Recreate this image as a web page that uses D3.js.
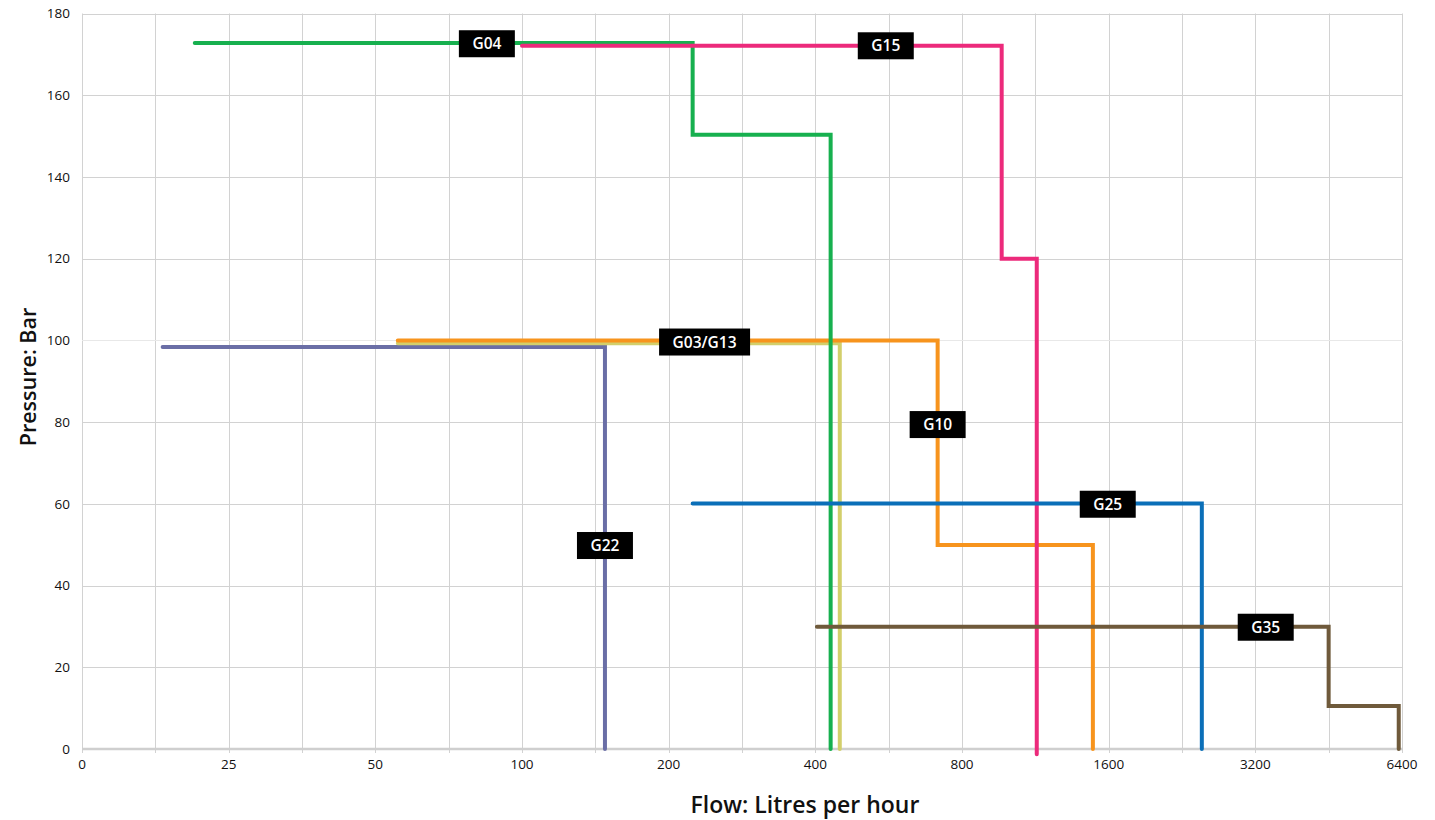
<!DOCTYPE html>
<html>
<head>
<meta charset="utf-8">
<script src="https://cdn.jsdelivr.net/npm/d3@7"></script>
<style>
  html, body { margin: 0; padding: 0; background: #fff; }
  svg { display: block; font-family: "Open Sans", "Noto Sans", sans-serif; }
</style>
</head>
<body>
<svg id="chart" width="1435" height="820"></svg>
<script>
// ---- data ----
const xTickValues = [12.5, 25, 50, 100, 200, 400, 800, 1600, 3200, 6400];
const xTickLabels = ["0", "25", "50", "100", "200", "400", "800", "1600", "3200", "6400"];
const yTickValues = [0, 20, 40, 60, 80, 100, 120, 140, 160, 180];

const seriesNames = ["G22", "G03/G13", "G10", "G04", "G15", "G25", "G35"];
const seriesColors = ["#6a6ea6", "#d3cf6b", "#f7941d", "#17b04f", "#ec2a7b", "#0b6fb8", "#6f5a3b"];

const g22 = [[18.3, 98.4], [148, 98.4], [148, 0]];
const g03g13 = [[55.6, 99.3], [449, 99.3], [449, 0]];
const g10 = [[55.6, 100], [713, 100], [713, 49.9], [1485, 49.9], [1485, 0]];
const g04 = [[21.3, 172.8], [224, 172.8], [224, 150.3], [430, 150.3], [430, 0]];
const g15 = [[100, 172.1], [965, 172.1], [965, 120], [1139, 120], [1139, -1.3]];
const g25 = [[224, 60.1], [2485, 60.1], [2485, 0]];
const g35 = [[403, 29.9], [4525, 29.9], [4525, 10.5], [6302, 10.5], [6302, 0]];
const seriesPoints = [g22, g03g13, g10, g04, g15, g25, g35];

// label anchors [flow, pressure]
const labelNames = ["G04", "G15", "G03/G13", "G10", "G22", "G25", "G35"];
const labelPos = [[84.7, 172.6], [558, 172.1], [237, 99.6], [713, 79.4], [148, 49.8], [1593, 59.9], [3361, 29.8]];

// ---- chart ----
const svg = d3.select("#chart");
const mLeft = 82, mRight = 1402, mTop = 13.5, mBottom = 749;

const x = d3.scaleLog().base(2).domain([12.5, 6400]).range([mLeft, mRight]);
const y = d3.scaleLinear().domain([0, 180]).range([mBottom, mTop]);

// vertical grid at every half doubling
const vGrid = d3.range(0, 19).map(k => 12.5 * Math.pow(2, k / 2));
svg.append("g").selectAll("line").data(vGrid).join("line")
  .attr("x1", d => Math.round(x(d)) + 0.5).attr("x2", d => Math.round(x(d)) + 0.5)
  .attr("y1", mTop).attr("y2", mBottom + 4)
  .attr("stroke", "#d2d2d2").attr("stroke-width", 1);

// horizontal grid
svg.append("g").selectAll("line").data(yTickValues.filter(d => d > 0)).join("line")
  .attr("x1", mLeft).attr("x2", mRight + 1)
  .attr("y1", d => Math.round(y(d)) + 0.5).attr("y2", d => Math.round(y(d)) + 0.5)
  .attr("stroke", d => d === 100 ? "#e8e8e8" : "#d2d2d2").attr("stroke-width", 1);

// x axis baseline
svg.append("line").attr("x1", mLeft).attr("x2", mRight + 1).attr("y1", mBottom).attr("y2", mBottom)
  .attr("stroke", "#cfcfcf").attr("stroke-width", 2.5);

// y tick labels
svg.append("g").selectAll("text").data(yTickValues).join("text")
  .attr("x", 70).attr("y", d => y(d)).attr("dy", "0.35em")
  .attr("text-anchor", "end").attr("font-size", 13.5).attr("fill", "#111")
  .text(d => d);

// x tick labels
svg.append("g").selectAll("text").data(xTickValues).join("text")
  .attr("x", d => x(d)).attr("y", 769)
  .attr("text-anchor", "middle").attr("font-size", 13.5).attr("fill", "#111")
  .text((d, i) => xTickLabels[i]);

// axis titles
svg.append("text").attr("x", 805).attr("y", 813).attr("text-anchor", "middle")
  .attr("font-size", 23).attr("font-weight", 600).attr("fill", "#111").text("Flow: Litres per hour");
svg.append("text").attr("transform", "translate(36,377) rotate(-90)").attr("text-anchor", "middle")
  .attr("font-size", 21.5).attr("font-weight", 600).attr("fill", "#111").text("Pressure: Bar");

// series lines
const line = d3.line().x(d => x(d[0])).y(d => y(d[1]));
svg.append("g").selectAll("path").data(seriesPoints).join("path")
  .attr("d", line)
  .attr("fill", "none")
  .attr("stroke", (d, i) => seriesColors[i])
  .attr("stroke-width", 4)
  .attr("stroke-linecap", "round")
  .attr("stroke-linejoin", "miter");

// labels
const lg = svg.append("g").selectAll("g").data(labelNames).join("g")
  .attr("transform", (d, i) => `translate(${x(labelPos[i][0])},${y(labelPos[i][1])})`);
lg.each(function(d) {
  const g = d3.select(this);
  const t = g.append("text").attr("text-anchor", "middle").attr("dy", "0.36em")
    .attr("font-size", 15.5).attr("font-weight", 600).attr("fill", "#fff").text(d);
  const w = t.node().getComputedTextLength() + 27;
  g.insert("rect", "text").attr("x", -w / 2).attr("y", -13.5).attr("width", w).attr("height", 27).attr("fill", "#000");
});
</script>
</body>
</html>
